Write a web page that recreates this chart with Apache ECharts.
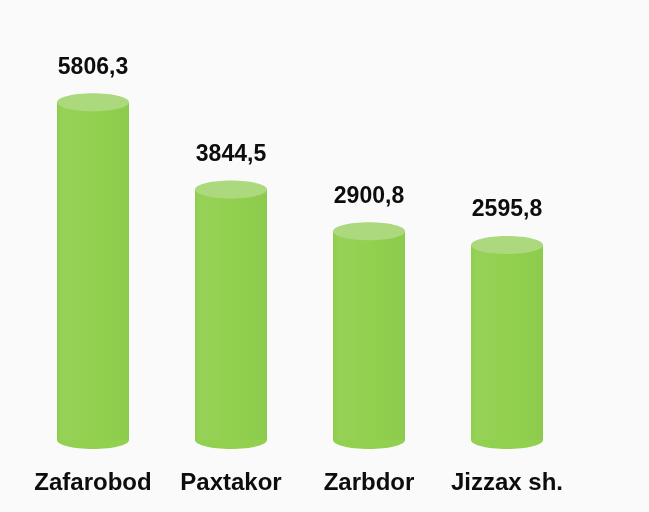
<!DOCTYPE html>
<html>
<head>
<meta charset="utf-8">
<script src="https://cdn.jsdelivr.net/npm/echarts@6/dist/echarts.min.js"></script>
<style>
  html, body { margin: 0; padding: 0; background: #fafafa; }
  #chart { width: 649px; height: 512px; }
</style>
</head>
<body>
<div id="chart"></div>
<script>
const categories = ['Zafarobod', 'Paxtakor', 'Zarbdor', 'Jizzax sh.']
const values = [5806.3, 3844.5, 2900.8, 2595.8]

// yAxis is hidden; min below zero so short bars keep the look of the picture
const Y_MIN = -1800
const Y_MAX = 8000

const BODY_COLOR = '#92d050'
const TOP_COLOR = '#acd97e'

const fmt = v => v.toFixed(1).replace('.', ',')

const chart = echarts.init(document.getElementById('chart'))

const renderCylinder = (params, api) => {
  const idx = api.value(0)
  const val = api.value(1)
  const top = api.coord([idx, val])
  const base = api.coord([idx, Y_MIN])
  const rx = 36
  const ry = 9
  return {
    type: 'group',
    children: [
      {
        type: 'ellipse',
        shape: { cx: base[0], cy: base[1], rx: rx, ry: ry },
        style: { fill: BODY_COLOR }
      },
      {
        type: 'rect',
        shape: { x: top[0] - rx, y: top[1], width: rx * 2, height: base[1] - top[1] },
        style: {
          fill: {
            type: 'linear', x: 0, y: 0, x2: 1, y2: 0,
            colorStops: [
              { offset: 0, color: '#8fcd4d' },
              { offset: 0.08, color: '#97d258' },
              { offset: 0.5, color: '#92d050' },
              { offset: 1, color: '#8ccb4b' }
            ]
          }
        }
      },
      {
        type: 'ellipse',
        shape: { cx: top[0], cy: top[1], rx: rx, ry: ry },
        style: { fill: TOP_COLOR }
      },
      {
        type: 'text',
        style: {
          x: top[0],
          y: top[1] - 35,
          text: fmt(val),
          align: 'center',
          verticalAlign: 'middle',
          font: 'bold 23px "Liberation Sans", Arial, sans-serif',
          fill: '#0d0d0d'
        }
      }
    ]
  }
}

chart.setOption({
  backgroundColor: '#fafafa',
  animation: false,
  grid: { left: 24, right: 73, top: 5, bottom: 72 },
  xAxis: {
    type: 'category',
    data: categories,
    axisLine: { show: false },
    axisTick: { show: false },
    axisLabel: {
      interval: 0,
      margin: 31,
      color: '#0d0d0d',
      fontSize: 24,
      fontWeight: 'bold',
      fontFamily: '"Liberation Sans", Arial, sans-serif'
    }
  },
  yAxis: {
    type: 'value',
    min: Y_MIN,
    max: Y_MAX,
    show: false
  },
  series: [
    {
      type: 'custom',
      renderItem: renderCylinder,
      data: values.map((v, i) => [i, v])
    }
  ]
})
</script>
</body>
</html>
